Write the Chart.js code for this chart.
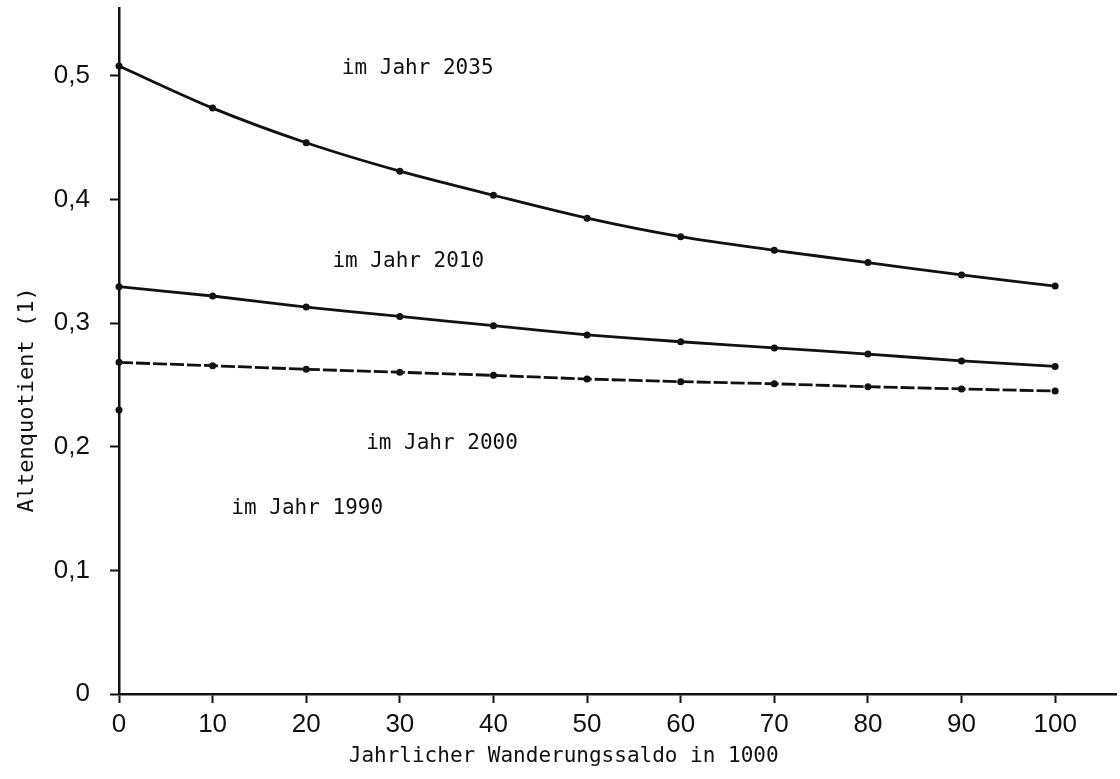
<!DOCTYPE html>
<html lang="de">
<head>
<meta charset="utf-8">
<title>Altenquotient und Wanderungssaldo</title>
<script src="https://cdn.jsdelivr.net/npm/chart.js@4.4.1/dist/chart.umd.min.js"></script>
<style>
  html, body { margin: 0; padding: 0; background: #fff; }
  #wrap { width: 1120px; height: 779px; position: relative; }
</style>
</head>
<body>
<div id="wrap"><canvas id="alten-chart"></canvas></div>
<script>
// ===== Altenquotient je nach jährlichem Wanderungssaldo =====

// Wanderungssaldo in 1000 (x-Werte)
const saldo = [0, 10, 20, 30, 40, 50, 60, 70, 80, 90, 100];

// Altenquotient je Jahr
const quote2035 = [0.508, 0.474, 0.446, 0.423, 0.4035, 0.385, 0.370, 0.359, 0.349, 0.339, 0.330];
const quote2010 = [0.3295, 0.322, 0.313, 0.3055, 0.298, 0.2905, 0.285, 0.280, 0.275, 0.2695, 0.265];
const quote2000 = [0.2683, 0.2656, 0.2627, 0.2603, 0.2578, 0.2548, 0.2527, 0.251, 0.2486, 0.2468, 0.2451];
const saldo1990 = [0];
const quote1990 = [0.2298];   // nur der Ausgangswert

// Achsen
const xTicks = [0, 10, 20, 30, 40, 50, 60, 70, 80, 90, 100];
const xTickLabels = ['0', '10', '20', '30', '40', '50', '60', '70', '80', '90', '100'];
const yTicks = [0, 0.1, 0.2, 0.3, 0.4, 0.5];
const yTickLabels = ['0', '0,1', '0,2', '0,3', '0,4', '0,5'];
const xMax = 106.5;
const yMax = 0.555;

const yearNames = ['im Jahr 2035', 'im Jahr 2010', 'im Jahr 2000', 'im Jahr 1990'];
const xTitle = 'Jahrlicher Wanderungssaldo in 1000';
const yTitle = 'Altenquotient (1)';

// Ankerpunkte der Beschriftungen (in Datenkoordinaten)
const labelAnchors = [[23.8, 0.506], [22.8, 0.350], [26.4, 0.203], [12.0, 0.150]];

const INK = '#111';
const MONO = '"DejaVu Sans Mono", "Liberation Mono", monospace';
const SANS = '"Liberation Sans", Arial, sans-serif';

function toPoints(xs, ys) {
    return xs.map((x, i) => ({ x: x, y: ys[i] }));
}

// Beschriftungen und Achsentitel direkt auf den Canvas
const textPlugin = {
    id: 'beschriftung',
    afterDraw(chart) {
        const { ctx, chartArea } = chart;
        const x = chart.scales.x;
        const y = chart.scales.y;
        ctx.save();
        ctx.fillStyle = INK;
        ctx.font = '21px ' + MONO;
        ctx.textBaseline = 'middle';
        ctx.textAlign = 'left';
        yearNames.forEach((name, i) => {
            const a = labelAnchors[i];
            ctx.fillText(name, x.getPixelForValue(a[0]), y.getPixelForValue(a[1]));
        });

        ctx.textAlign = 'center';
        ctx.fillText(xTitle, x.getPixelForValue(47.5), chartArea.bottom + 63);

        ctx.translate(27, y.getPixelForValue(0.238));
        ctx.rotate(-Math.PI / 2);
        ctx.font = '22px ' + MONO;
        ctx.fillText(yTitle, 0, 0);
        ctx.restore();
    }
};

const lineStyle = {
    borderColor: INK,
    backgroundColor: INK,
    borderWidth: 2.8,
    pointRadius: 3.5,
    pointBorderWidth: 0,
    clip: false
};

new Chart(document.getElementById('alten-chart').getContext('2d'), {
    type: 'line',
    data: {
        datasets: [
            Object.assign({ label: yearNames[0], data: toPoints(saldo, quote2035), tension: 0.3 }, lineStyle),
            Object.assign({ label: yearNames[1], data: toPoints(saldo, quote2010), tension: 0.2 }, lineStyle),
            Object.assign({ label: yearNames[2], data: toPoints(saldo, quote2000), borderDash: [14, 3], tension: 0 }, lineStyle),
            Object.assign({ label: yearNames[3], data: toPoints(saldo1990, quote1990), showLine: false }, lineStyle)
        ]
    },
    options: {
        responsive: true,
        maintainAspectRatio: false,
        animation: false,
        layout: { padding: { top: 8, right: 0, left: 0, bottom: 0 } },
        plugins: {
            legend: { display: false },
            tooltip: { enabled: false }
        },
        scales: {
            x: {
                type: 'linear',
                min: 0,
                max: xMax,
                afterBuildTicks: s => { s.ticks = xTicks.map(v => ({ value: v })); },
                afterFit: s => {
                    s.height = 85;
                    s.paddingLeft = 0;
                    s.paddingRight = 0;
                },
                grid: { drawOnChartArea: false, drawTicks: true, tickLength: 9, tickWidth: 2, tickColor: INK },
                border: { display: true, color: INK, width: 2.5 },
                ticks: {
                    color: INK,
                    autoSkip: false,
                    maxRotation: 0,
                    padding: 6,
                    font: { family: SANS, size: 26 },
                    callback: (v, i) => xTickLabels[i]
                }
            },
            y: {
                type: 'linear',
                min: 0,
                max: yMax,
                afterBuildTicks: s => { s.ticks = yTicks.map(v => ({ value: v })); },
                afterFit: s => {
                    s.width = 119;
                    s.paddingTop = 0;
                    s.paddingBottom = 0;
                },
                grid: { drawOnChartArea: false, drawTicks: true, tickLength: 9, tickWidth: 2, tickColor: INK },
                border: { display: true, color: INK, width: 2.5 },
                ticks: {
                    color: INK,
                    autoSkip: false,
                    padding: 20,
                    font: { family: SANS, size: 26 },
                    callback: (v, i) => yTickLabels[i]
                }
            }
        }
    },
    plugins: [textPlugin]
});
</script>
</body>
</html>
